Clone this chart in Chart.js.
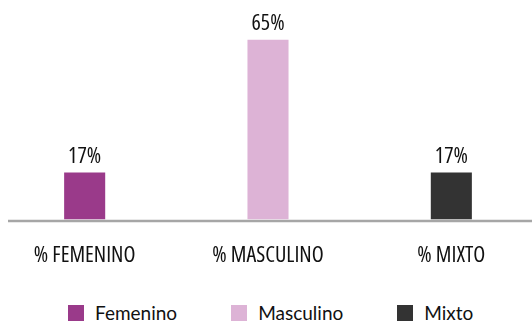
<!DOCTYPE html>
<html>
<head>
<meta charset="utf-8">
<script src="https://cdn.jsdelivr.net/npm/chart.js@4"></script>
<style>
    html, body { margin: 0; padding: 0; background: #fff; overflow: hidden; }
    body { width: 532px; height: 325px; position: relative; }
    #wrap { position: absolute; left: -7px; top: 0; width: 550px; height: 292px; }
    #legend { position: absolute; left: 68px; top: 301px; display: flex; align-items: center;
              font-family: Lato, sans-serif; font-size: 19px; color: #111; }
    #legend .item { display: flex; align-items: center; margin-right: 54px; }
    #legend .item:last-child { margin-right: 0; }
    #legend .box { width: 16px; height: 16px; margin-right: 11px; }
</style>
</head>
<body>
<div id="wrap"><canvas id="chart"></canvas></div>
<div id="legend"></div>
<script>
document.addEventListener("DOMContentLoaded", function () {
    const categories = ["% FEMENINO", "% MASCULINO", "% MIXTO"];
    const seriesNames = ["Femenino", "Masculino", "Mixto"];
    const femenino = [17, null, null];
    const masculino = [null, 65, null];
    const mixto = [null, null, 17];
    const colors = ["#9a3a8a", "#ddb3d6", "#333333"];

    // narrow face of Open Sans for numbers and axis labels
    const narrow = "condensed 22px 'Open Sans'";

    // percentage text above each bar
    const valueLabels = {
        id: "valueLabels",
        afterDatasetsDraw(chart) {
            const ctx = chart.ctx;
            ctx.save();
            ctx.font = narrow;
            ctx.fillStyle = "#111";
            ctx.textAlign = "center";
            ctx.textBaseline = "alphabetic";
            chart.data.datasets.forEach(function (ds, i) {
                chart.getDatasetMeta(i).data.forEach(function (bar, j) {
                    if (ds.data[j] == null) return;
                    ctx.fillText(ds.data[j] + "%", bar.x, bar.y - 10);
                });
            });
            ctx.restore();
        }
    };

    // grey baseline under the bars
    const baseline = {
        id: "baseline",
        beforeDatasetsDraw(chart) {
            const ctx = chart.ctx;
            const y = chart.scales.y.getPixelForValue(0);
            ctx.save();
            ctx.strokeStyle = "#a6a6a6";
            ctx.lineWidth = 2.5;
            ctx.beginPath();
            ctx.moveTo(chart.chartArea.left + 15, y + 1.3);
            ctx.lineTo(chart.chartArea.right, y + 1.3);
            ctx.stroke();
            ctx.restore();
        }
    };

    const series = [femenino, masculino, mixto];
    const chart = new Chart(document.getElementById("chart").getContext("2d"), {
        type: "bar",
        data: {
            labels: categories,
            datasets: series.map(function (values, i) {
                return {
                    label: seriesNames[i],
                    data: values,
                    backgroundColor: colors[i],
                    borderWidth: 0,
                    grouped: false,
                    barPercentage: 0.224,
                    categoryPercentage: 1
                };
            })
        },
        options: {
            responsive: true,
            maintainAspectRatio: false,
            animation: false,
            layout: { padding: { top: 26, left: 0, right: 0, bottom: 0 } },
            plugins: {
                legend: { display: false },
                tooltip: { enabled: false }
            },
            scales: {
                x: {
                    grid: { display: false, drawTicks: false },
                    border: { display: false },
                    ticks: {
                        color: "#111",
                        padding: 23,
                        font: { family: "'Open Sans'", weight: "condensed", size: 22 }
                    }
                },
                y: {
                    display: false,
                    min: 0,
                    max: 70
                }
            }
        },
        plugins: [valueLabels, baseline]
    });

    // html legend built from the datasets
    const legend = document.getElementById("legend");
    chart.data.datasets.forEach(function (ds) {
        const item = document.createElement("div");
        item.className = "item";
        const box = document.createElement("span");
        box.className = "box";
        box.style.background = ds.backgroundColor;
        const text = document.createElement("span");
        text.textContent = ds.label;
        item.appendChild(box);
        item.appendChild(text);
        legend.appendChild(item);
    });
});
</script>
</body>
</html>
